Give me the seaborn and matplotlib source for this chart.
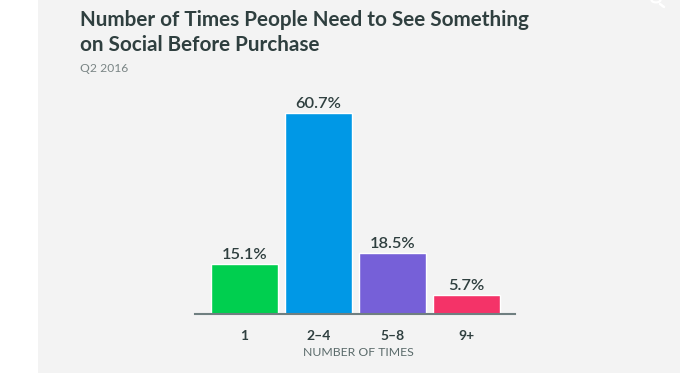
import matplotlib
matplotlib.use("Agg")
import matplotlib.pyplot as plt
from matplotlib.patches import Rectangle, Circle
from matplotlib.lines import Line2D
import seaborn as sns
import pandas as pd

categories = ["1", "2–4", "5–8", "9+"]
values = [15.1, 60.7, 18.5, 5.7]
value_labels = ["15.1%", "60.7%", "18.5%", "5.7%"]
bar_colors = ["#00CF4F", "#0098E6", "#7660D8", "#F43368"]
title_lines = ["Number of Times People Need to See Something", "on Social Before Purchase"]
subtitle = "Q2 2016"
xlabel = "NUMBER OF TIMES"

sns.set_theme(style="white")
plt.rcParams["font.family"] = ["Lato", "DejaVu Sans"]

W, H = 700, 373
TEXT = "#2F3F3F"
fig = plt.figure(figsize=(W / 100, H / 100), dpi=100, facecolor="white")
fig.add_artist(Rectangle((38 / W, 0), 642 / W, 1, transform=fig.transFigure,
                         facecolor="#F3F3F3", edgecolor="none", zorder=-5))

ax = fig.add_axes([195 / W, 1 - 314 / H, 320 / W, 234 / H])
ax.patch.set_alpha(0)
df = pd.DataFrame({"times": categories, "pct": values})
sns.barplot(data=df, x="times", y="pct", hue="times", palette=bar_colors,
            width=0.9, legend=False, saturation=1, ax=ax)
ax.set_xlim(-0.668, 3.657)
ax.set_ylim(0, 234 / 3.31)
for s in ["top", "left", "right"]:
    ax.spines[s].set_visible(False)
ax.spines["bottom"].set_color("#6F7F80")
ax.spines["bottom"].set_linewidth(1.5)
ax.set_yticks([])
ax.set_ylabel("")
ax.tick_params(axis="x", length=0, pad=11.7, labelsize=10, labelcolor=TEXT)
for t in ax.get_xticklabels():
    t.set_fontweight("bold")
ax.set_xlabel(xlabel, fontsize=8.8, color="#5A6A6A", labelpad=3.2, x=0.511)
for i, (v, lab) in enumerate(zip(values, value_labels)):
    ax.annotate(lab, (i, v), xytext=(0, 1.5), textcoords="offset points", ha="center",
                va="bottom", fontsize=11.8, color=TEXT, fontweight="semibold")

fig.text(80 / W, 1 - 20 / H, title_lines[0], fontsize=14.9, fontweight="bold", color=TEXT, va="center", ha="left")
fig.text(80 / W, 1 - 45 / H, title_lines[1], fontsize=14.9, fontweight="bold", color=TEXT, va="center", ha="left")
fig.text(80 / W, 1 - 68 / H, subtitle, fontsize=8.7, color="#7A8585", va="center", ha="left")

# magnifier icon cut by the top edge
fig.add_artist(Circle((656 / W, 1 - 0 / H), 4.5 / W, transform=fig.transFigure,
                      facecolor="none", edgecolor="white", linewidth=1.6))
fig.add_artist(Line2D([660 / W, 664 / W], [1 - 4 / H, 1 - 7 / H], color="white", linewidth=1.8))

fig.savefig("out.png", dpi=100, facecolor="white")
